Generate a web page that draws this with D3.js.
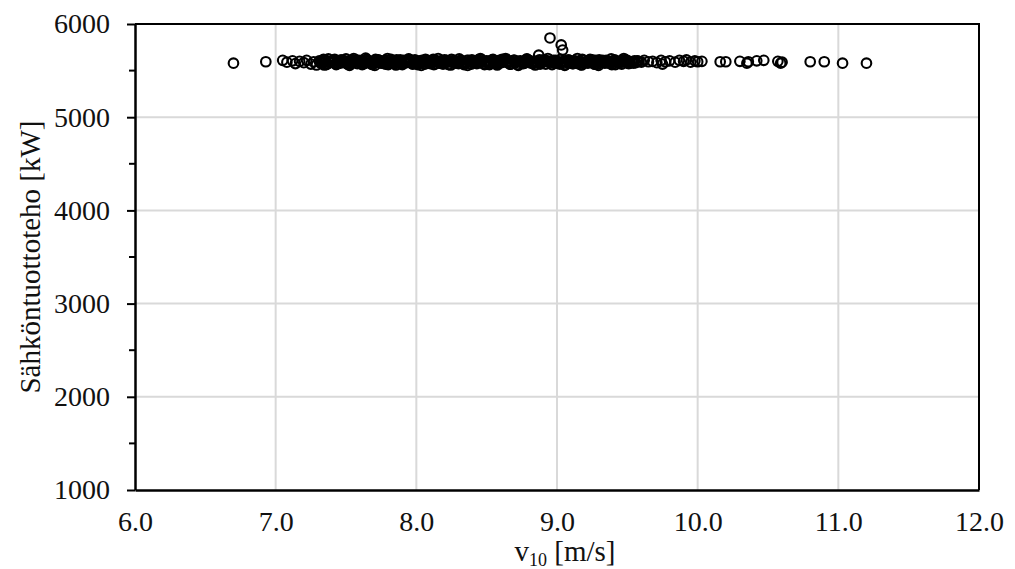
<!DOCTYPE html>
<html>
<head>
<meta charset="utf-8">
<script src="https://cdn.jsdelivr.net/npm/d3@7"></script>
<style>
  body { margin: 0; background: #fff; }
  svg { display: block; }
  svg text { font-family: "Liberation Serif", "Times New Roman", Times, "DejaVu Serif", serif !important; }
</style>
</head>
<body>
<svg id="chart" width="1015" height="569"></svg>
<script>
// --- DATA ---
const xTicks = [6, 7, 8, 9, 10, 11, 12];
const yTicks = [1000, 2000, 3000, 4000, 5000, 6000];
const yMinorTicks = [1500, 2500, 3500, 4500, 5500];

// wind speed at 10 m [m/s]
const windSpeed = [
  6.70, 6.93, 7.05, 7.08, 7.12, 7.14, 7.17, 7.20, 7.22, 7.25,
  7.27, 7.29, 7.31, 7.33, 7.35, 7.37, 7.38, 7.40, 7.42, 7.43,
  7.45, 7.46, 7.48, 7.49, 7.51, 7.52, 7.54, 7.55, 7.57, 7.58,
  7.60, 7.61, 7.63, 7.64, 7.66, 7.67, 7.69, 7.70, 7.72, 7.73,
  7.75, 7.76, 7.78, 7.79, 7.81, 7.82, 7.84, 7.85, 7.87, 7.88,
  7.90, 7.91, 7.93, 7.94, 7.96, 7.97, 7.99, 8.00, 8.02, 8.03,
  8.05, 8.06, 8.08, 8.09, 8.11, 8.12, 8.14, 8.15, 8.17, 8.18,
  8.20, 8.21, 8.23, 8.24, 8.26, 8.27, 8.29, 8.30, 8.32, 8.33,
  8.35, 8.36, 8.38, 8.39, 8.41, 8.42, 8.44, 8.45, 8.47, 8.48,
  8.50, 8.51, 8.53, 8.54, 8.56, 8.57, 8.59, 8.60, 8.62, 8.63,
  8.65, 8.66, 8.68, 8.69, 8.71, 8.72, 8.74, 8.75, 8.77, 8.78,
  8.80, 8.81, 8.83, 8.84, 8.86, 8.87, 8.89, 8.90, 8.92, 8.93,
  8.95, 8.96, 8.98, 8.99, 9.01, 9.02, 9.03, 9.04, 9.05, 9.07,
  9.08, 9.10, 9.11, 9.13, 9.14, 9.16, 9.17, 9.19, 9.20, 9.22,
  9.23, 9.25, 9.26, 9.28, 9.29, 9.31, 9.32, 9.34, 9.35, 9.37,
  9.38, 9.40, 9.41, 9.43, 9.44, 9.46, 9.47, 9.49, 9.50, 9.52,
  9.53, 9.55, 9.56, 9.58, 9.60, 9.62, 9.65, 9.68, 9.71, 9.74,
  9.75, 9.77, 9.80, 9.84, 9.87, 9.90, 9.92, 9.95, 9.98, 10.00,
  10.03, 10.16, 10.20, 10.30, 10.35, 10.36, 10.42, 10.47, 10.57, 10.59,
  10.60, 10.80, 10.90, 11.03, 11.20,
  7.32, 7.34, 7.36, 7.39, 7.41, 7.44, 7.47, 7.50, 7.53, 7.56,
  7.59, 7.62, 7.65, 7.68, 7.71, 7.74, 7.77, 7.80, 7.83, 7.86,
  7.89, 7.92, 7.95, 7.98, 8.01, 8.04, 8.07, 8.10, 8.13, 8.16,
  8.19, 8.22, 8.25, 8.28, 8.31, 8.34, 8.37, 8.40, 8.43, 8.46,
  8.49, 8.52, 8.55, 8.58, 8.61, 8.64, 8.67, 8.70, 8.73, 8.76,
  8.79, 8.82, 8.85, 8.88, 8.91, 8.94, 8.97, 9.00, 9.06, 9.09,
  9.12, 9.15, 9.18, 9.21, 9.24, 9.27, 9.30, 9.33, 9.36, 9.39,
  9.42, 9.45, 9.48, 9.51, 9.54, 9.57,
  7.315, 7.345, 7.375, 7.405, 7.435, 7.465, 7.495, 7.525, 7.555, 7.585,
  7.615, 7.645, 7.675, 7.705, 7.735, 7.765, 7.795, 7.825, 7.855, 7.885,
  7.915, 7.945, 7.975, 8.005, 8.035, 8.065, 8.095, 8.125, 8.155, 8.185,
  8.215, 8.245, 8.275, 8.305, 8.335, 8.365, 8.395, 8.425, 8.455, 8.485,
  8.515, 8.545, 8.575, 8.605, 8.635, 8.665, 8.695, 8.725, 8.755, 8.785,
  8.815, 8.845, 8.875, 8.905, 8.935, 8.965, 8.995, 9.025, 9.055, 9.085,
  9.115, 9.145, 9.175, 9.205, 9.235, 9.265, 9.295, 9.325, 9.355, 9.385,
  9.415, 9.445, 9.475, 9.505, 9.535,
  7.325, 7.385, 7.445, 7.505, 7.565, 7.625, 7.685, 7.745, 7.805, 7.865,
  7.925, 7.985, 8.045, 8.105, 8.165, 8.225, 8.285, 8.345, 8.405, 8.465,
  8.525, 8.585, 8.645, 8.705, 8.765, 8.825, 8.885, 8.945, 9.005, 9.065,
  9.125, 9.185, 9.245, 9.305, 9.365, 9.425, 9.485, 9.545,
  7.355, 7.415, 7.475, 7.535, 7.595, 7.655, 7.715, 7.775, 7.835, 7.895,
  7.955, 8.015, 8.075, 8.135, 8.195, 8.255, 8.315, 8.375, 8.435, 8.495,
  8.555, 8.615, 8.675, 8.735, 8.795, 8.855, 8.915, 8.975, 9.035, 9.095,
  9.155, 9.215, 9.275, 9.335, 9.395, 9.455, 9.515, 9.575
];

// electrical output [kW]
const power = [
  5580, 5595, 5610, 5590, 5605, 5575, 5600, 5585, 5610, 5570,
  5595, 5560, 5605, 5585, 5615, 5575, 5600, 5590, 5620, 5565,
  5600, 5580, 5610, 5590, 5570, 5605, 5585, 5615, 5595, 5575,
  5590, 5610, 5575, 5635, 5600, 5585, 5565, 5605, 5590, 5615,
  5580, 5600, 5570, 5610, 5590, 5620, 5585, 5575, 5605, 5595,
  5565, 5610, 5585, 5600, 5590, 5575, 5615, 5595, 5580, 5605,
  5590, 5570, 5610, 5585, 5600, 5620, 5575, 5595, 5605, 5580,
  5615, 5590, 5565, 5600, 5585, 5610, 5595, 5575, 5605, 5590,
  5580, 5610, 5595, 5570, 5605, 5590, 5615, 5585, 5600, 5575,
  5605, 5590, 5580, 5615, 5595, 5570, 5610, 5585, 5600, 5620,
  5585, 5600, 5575, 5610, 5590, 5565, 5605, 5595, 5580, 5615,
  5590, 5605, 5575, 5600, 5585, 5665, 5610, 5595, 5570, 5605,
  5850, 5590, 5580, 5610, 5595, 5570, 5775, 5720, 5600, 5585,
  5615, 5590, 5575, 5605, 5585, 5600, 5565, 5610, 5590, 5580,
  5600, 5615, 5585, 5595, 5570, 5605, 5590, 5580, 5610, 5595,
  5575, 5600, 5615, 5585, 5595, 5570, 5605, 5590, 5610, 5580,
  5595, 5605, 5585, 5600, 5590, 5610, 5595, 5600, 5585, 5610,
  5570, 5595, 5605, 5590, 5610, 5600, 5615, 5590, 5605, 5595,
  5600, 5595, 5595, 5600, 5580, 5595, 5605, 5610, 5600, 5580,
  5590, 5595, 5595, 5580, 5580,
  5580, 5620, 5565, 5600, 5610, 5575, 5590, 5625, 5570, 5595,
  5610, 5580, 5600, 5570, 5620, 5585, 5605, 5565, 5595, 5615,
  5575, 5600, 5620, 5585, 5565, 5610, 5595, 5575, 5615, 5590,
  5570, 5605, 5620, 5580, 5595, 5565, 5610, 5585, 5575, 5620,
  5595, 5565, 5605, 5580, 5620, 5590, 5570, 5610, 5600, 5575,
  5620, 5585, 5600, 5570, 5615, 5590, 5605, 5580, 5565, 5610,
  5595, 5575, 5620, 5585, 5600, 5570, 5615, 5590, 5605, 5565,
  5600, 5585, 5615, 5575, 5595, 5605,
  5590, 5560, 5625, 5600, 5575, 5615, 5585, 5555, 5630, 5595,
  5565, 5620, 5590, 5555, 5610, 5580, 5630, 5600, 5560, 5615,
  5585, 5625, 5570, 5600, 5555, 5620, 5590, 5565, 5630, 5580,
  5610, 5560, 5595, 5625, 5575, 5555, 5615, 5590, 5630, 5565,
  5600, 5620, 5560, 5585, 5630, 5570, 5610, 5555, 5595, 5625,
  5580, 5560, 5615, 5600, 5630, 5565, 5590, 5620, 5555, 5605,
  5575, 5630, 5560, 5595, 5620, 5570, 5555, 5610, 5585, 5625,
  5565, 5600, 5630, 5580, 5595,
  5590, 5585, 5595, 5580, 5600, 5590, 5585, 5595, 5580, 5590,
  5600, 5585, 5590, 5595, 5580, 5590, 5600, 5585, 5595, 5590,
  5580, 5590, 5600, 5585, 5595, 5590, 5580, 5600, 5585, 5595,
  5590, 5580, 5600, 5590, 5585, 5595, 5590, 5580,
  5600, 5610, 5595, 5605, 5590, 5610, 5600, 5595, 5605, 5590,
  5610, 5600, 5595, 5605, 5590, 5600, 5610, 5595, 5605, 5600,
  5590, 5610, 5600, 5595, 5605, 5590, 5600, 5610, 5595, 5605,
  5600, 5590, 5610, 5600, 5595, 5605, 5590, 5600
];

function renderScatter() {
    const svg = d3.select("#chart");
    const width = 1015, height = 569;
    const marginTop = 24, marginRight = 36, marginBottom = 79, marginLeft = 135;
    const fontSize = 28;

    const x = d3.scaleLinear().domain([6, 12]).range([marginLeft, width - marginRight]);
    const y = d3.scaleLinear().domain([1000, 6000]).range([height - marginBottom, marginTop]);

    const grid = "#d9d9d9";

    // gridlines
    svg.append("g")
        .selectAll("line")
        .data(xTicks.slice(1, -1))
        .join("line")
            .attr("x1", d => x(d)).attr("x2", d => x(d))
            .attr("y1", y(1000)).attr("y2", y(6000))
            .attr("stroke", grid).attr("stroke-width", 2);

    svg.append("g")
        .selectAll("line")
        .data(yTicks.slice(1, -1))
        .join("line")
            .attr("x1", x(6)).attr("x2", x(12))
            .attr("y1", d => y(d)).attr("y2", d => y(d))
            .attr("stroke", grid).attr("stroke-width", 2);

    // frame top + right
    svg.append("path")
        .attr("d", `M${x(6)},${y(6000)}H${x(12)}V${y(1000)}`)
        .attr("fill", "none").attr("stroke", "#000").attr("stroke-width", 2);

    // x axis (no tick marks)
    svg.append("g")
        .attr("transform", `translate(0,${y(1000)})`)
        .call(d3.axisBottom(x).tickValues(xTicks).tickFormat(d3.format(".1f")).tickSize(0).tickPadding(21))
        .call(g => g.select(".domain").attr("stroke-width", 2.5))
        .call(g => g.selectAll("text").attr("font-size", fontSize).attr("fill", "#111"));

    // y axis
    svg.append("g")
        .attr("transform", `translate(${marginLeft},0)`)
        .call(d3.axisLeft(y).tickValues(yTicks).tickFormat(d3.format("d")).tickSize(8).tickSizeOuter(0).tickPadding(17))
        .call(g => g.select(".domain").attr("stroke-width", 2.5))
        .call(g => g.selectAll(".tick line").attr("stroke-width", 2))
        .call(g => g.selectAll("text").attr("font-size", fontSize).attr("fill", "#111"));

    svg.append("g")
        .selectAll("line")
        .data(yMinorTicks)
        .join("line")
            .attr("x1", marginLeft - 6).attr("x2", marginLeft)
            .attr("y1", d => y(d)).attr("y2", d => y(d))
            .attr("stroke", "#000").attr("stroke-width", 2);

    // points
    svg.append("g")
        .attr("fill", "none")
        .attr("stroke", "#000")
        .attr("stroke-width", 2.1)
        .selectAll("circle")
        .data(d3.zip(windSpeed, power))
        .join("circle")
            .attr("cx", d => x(d[0]))
            .attr("cy", d => y(d[1]))
            .attr("r", 4.8);

    // axis titles
    const xt = svg.append("text")
        .attr("x", x(9) + 8)
        .attr("y", height - 8)
        .attr("text-anchor", "middle")
        .attr("font-size", 29)
        .attr("fill", "#111");
    xt.append("tspan").text("v");
    xt.append("tspan").attr("font-size", 18).attr("dy", 5).text("10");
    xt.append("tspan").attr("dy", -5).text(" [m/s]");

    svg.append("text")
        .attr("transform", `translate(40,${(y(1000) + y(6000)) / 2}) rotate(-90)`)
        .attr("text-anchor", "middle")
        .attr("font-size", 29)
        .attr("fill", "#111")
        .text("Sähköntuottoteho [kW]");
}

renderScatter();
</script>
</body>
</html>
